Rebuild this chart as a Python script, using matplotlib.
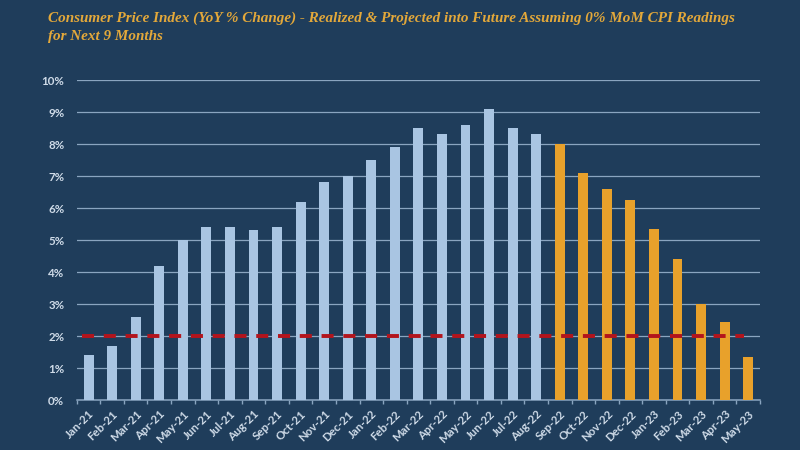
import matplotlib.pyplot as plt
import numpy as np

months = ['Jan-21', 'Feb-21', 'Mar-21', 'Apr-21', 'May-21', 'Jun-21', 'Jul-21',
          'Aug-21', 'Sep-21', 'Oct-21', 'Nov-21', 'Dec-21', 'Jan-22', 'Feb-22',
          'Mar-22', 'Apr-22', 'May-22', 'Jun-22', 'Jul-22', 'Aug-22', 'Sep-22',
          'Oct-22', 'Nov-22', 'Dec-22', 'Jan-23', 'Feb-23', 'Mar-23', 'Apr-23',
          'May-23']
realized = [1.4, 1.7, 2.6, 4.2, 5.0, 5.4, 5.4, 5.3, 5.4, 6.2, 6.8, 7.0, 7.5,
            7.9, 8.5, 8.3, 8.6, 9.1, 8.5, 8.3]
projected = [8.0, 7.1, 6.6, 6.25, 5.35, 4.4, 3.0, 2.45, 1.33]
target = 2.0

bg = '#1f3d5b'
light = '#a9c5e2'
gold = '#e8a12b'
grid_c = '#8aa5c0'
text_c = '#cfdbe8'

fig = plt.figure(figsize=(8, 4.5), dpi=100, facecolor=bg)
ax = fig.add_axes([0.096, 0.111, 0.854, 0.711], facecolor=bg)

x = np.arange(len(months))
n_real = len(realized)
ax.bar(x[:n_real], realized, width=0.42, color=light, zorder=3)
ax.bar(x[n_real:], projected, width=0.42, color=gold, zorder=3)

ax.hlines(target, -0.3, len(months) - 1.2, colors='#b3141c', linewidth=2.8,
          linestyles=(0, (3.1, 2.5)), zorder=4)

ax.set_xlim(-0.5, len(months) - 0.5)
ax.set_ylim(0, 10)
ax.set_yticks(range(0, 11))
ax.set_yticklabels([f'{i}%' for i in range(0, 11)])
ax.yaxis.grid(True, color=grid_c, linewidth=0.9, zorder=1)
ax.set_axisbelow(True)

ax.set_xticks(x)
ax.set_xticklabels(months, rotation=45, ha='right', rotation_mode='anchor')
ax.set_xticks(np.arange(-0.5, len(months)), minor=True)
ax.tick_params(axis='x', which='major', length=0, pad=6, labelsize=8.3,
               labelcolor=text_c)
ax.tick_params(axis='x', which='minor', length=3, color=grid_c, width=1)
ax.tick_params(axis='y', length=0, pad=9, labelsize=8.3, labelcolor=text_c)
for lab in ax.get_xticklabels() + ax.get_yticklabels():
    lab.set_fontfamily('Lato')
    lab.set_fontweight('bold')

for s in ['top', 'right', 'left']:
    ax.spines[s].set_visible(False)
ax.spines['bottom'].set_color(grid_c)
ax.spines['bottom'].set_linewidth(1.1)

fig.text(0.06, 0.974, 'Consumer Price Index (YoY % Change) - Realized & Projected '
         'into Future Assuming 0% MoM CPI Readings\nfor Next 9 Months',
         color='#e3a83a', fontsize=10.9, family='Liberation Serif', style='italic',
         fontweight='bold', va='top', ha='left', linespacing=1.5)

fig.savefig('out.png', facecolor=bg)
